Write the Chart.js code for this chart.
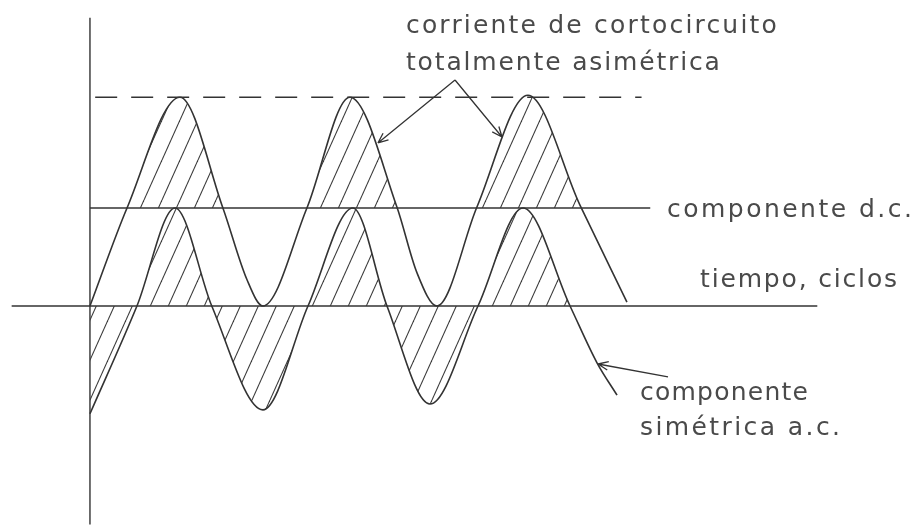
<!DOCTYPE html>
<html lang="es">
<head>
<meta charset="UTF-8">
<title>Corriente de cortocircuito totalmente asimétrica</title>
<script src="https://cdn.jsdelivr.net/npm/chart.js"></script>
<style>
  html, body { margin: 0; padding: 0; background: #fff; }
  canvas { display: block; }
</style>
</head>
<body>
<canvas id="scChart" width="913" height="527"></canvas>
<script>
// tiempo en ciclos, corriente en p.u.
const asymT = [0, 0.213, 0.517, 0.764, 0.902, 0.994, 1.247, 1.494, 1.764, 1.879, 1.994, 2.224, 2.517, 2.816, 3.086];
const asymI = [0, 1.0, 2.13, 1.0, 0.27, 0, 1.0, 2.13, 1.01, 0.34, 0, 1.01, 2.15, 1.03, 0.04];

// componente simétrica: parte rayada y cola final sin rayar
const symT = [0, 0.27, 0.489, 0.70, 0.994, 1.253, 1.511, 1.707, 1.954, 2.23, 2.489, 2.759];
const symI = [-1.1, 0, 1.0, 0, -1.06, 0, 1.0, 0, -1.0, 0, 1.0, 0];
const symTailT = [2.759, 2.914, 3.029];
const symTailI = [0, -0.58, -0.91];

const dcLevel = 1.0;
const peakLevel = 2.13;
const dcSpan = [0, 3.22];
const peakSpan = [0.03, 3.17];
const timeSpan = [-0.45, 4.18];
const currentSpan = [-2.23, 2.94];

const notes = [
  { text: 'corriente de cortocircuito', x: 1.816, y: 2.786, w: 371 },
  { text: 'totalmente asimétrica', x: 1.816, y: 2.408, w: 314 },
  { text: 'componente d.c.', x: 3.316, y: 0.908, w: 245 },
  { text: 'tiempo, ciclos', x: 3.506, y: 0.194, w: 197 },
  { text: 'componente', x: 3.161, y: -0.959, w: 168 },
  { text: 'simétrica a.c.', x: 3.161, y: -1.316, w: 200 }
];

const arrows = [
  { from: [2.098, 2.306], to: [1.655, 1.663] },
  { from: [2.098, 2.306], to: [2.368, 1.724] },
  { from: [3.322, -0.724], to: [2.920, -0.592] }
];

const ink = '#333';

// rayado diagonal
function hatch() {
  const c = document.createElement('canvas');
  c.width = 18; c.height = 40;
  const g = c.getContext('2d');
  g.strokeStyle = '#3a3a3a';
  g.lineWidth = 1.1;
  [-18, 0, 18].forEach(o => {
    g.beginPath();
    g.moveTo(o, 40);
    g.lineTo(o + 18, 0);
    g.stroke();
  });
  return g.createPattern(c, 'repeat');
}
const pattern = hatch();

const pts = (xs, ys) => xs.map((x, i) => ({ x: x, y: ys[i] }));
const flat = (span, v) => [{ x: span[0], y: v }, { x: span[1], y: v }];

const sketchPlugin = {
  id: 'sketch',
  afterDatasetsDraw(chart) {
    const ctx = chart.ctx;
    const xs = chart.scales.x, ys = chart.scales.y;
    ctx.save();
    ctx.strokeStyle = ink;
    ctx.lineWidth = 1.3;
    arrows.forEach(a => {
      const x1 = xs.getPixelForValue(a.from[0]), y1 = ys.getPixelForValue(a.from[1]);
      const x2 = xs.getPixelForValue(a.to[0]), y2 = ys.getPixelForValue(a.to[1]);
      ctx.beginPath();
      ctx.moveTo(x1, y1);
      ctx.lineTo(x2, y2);
      const ang = Math.atan2(y2 - y1, x2 - x1);
      [0.4, -0.4].forEach(d => {
        ctx.moveTo(x2, y2);
        ctx.lineTo(x2 - 11 * Math.cos(ang + d), y2 - 11 * Math.sin(ang + d));
      });
      ctx.stroke();
    });
    ctx.fillStyle = '#4a4a4a';
    ctx.font = '25px "DejaVu Sans"';
    ctx.textBaseline = 'alphabetic';
    notes.forEach(n => {
      ctx.letterSpacing = '0px';
      const w = ctx.measureText(n.text).width;
      const sp = (n.w - w) / (n.text.length - 1);
      ctx.letterSpacing = sp.toFixed(2) + 'px';
      ctx.fillText(n.text, xs.getPixelForValue(n.x), ys.getPixelForValue(n.y));
    });
    ctx.restore();
  }
};

new Chart(document.getElementById('scChart'), {
  type: 'line',
  data: {
    datasets: [
      {
        label: 'corriente totalmente asimétrica',
        data: pts(asymT, asymI),
        borderColor: ink,
        borderWidth: 1.6,
        cubicInterpolationMode: 'monotone',
        fill: { target: { value: dcLevel }, above: pattern, below: 'rgba(0,0,0,0)' }
      },
      {
        label: 'componente simétrica a.c.',
        data: pts(symT, symI),
        borderColor: ink,
        borderWidth: 1.6,
        cubicInterpolationMode: 'monotone',
        fill: { target: 'origin', above: pattern, below: pattern }
      },
      {
        label: 'componente simétrica a.c. (cola)',
        data: pts(symTailT, symTailI),
        borderColor: ink,
        borderWidth: 1.6,
        cubicInterpolationMode: 'monotone',
        fill: false
      },
      {
        label: 'componente d.c.',
        data: flat(dcSpan, dcLevel),
        borderColor: ink,
        borderWidth: 1.4,
        fill: false
      },
      {
        label: 'pico',
        data: flat(peakSpan, peakLevel),
        borderColor: ink,
        borderWidth: 1.5,
        borderDash: [22, 14],
        fill: false
      },
      {
        label: 'tiempo',
        data: flat(timeSpan, 0),
        borderColor: ink,
        borderWidth: 1.4,
        fill: false
      },
      {
        label: 'corriente',
        data: [{ x: 0, y: currentSpan[0] }, { x: 0, y: currentSpan[1] }],
        borderColor: ink,
        borderWidth: 1.4,
        fill: false
      }
    ]
  },
  options: {
    responsive: false,
    animation: false,
    layout: { padding: 0 },
    elements: { point: { radius: 0 } },
    plugins: { legend: { display: false }, tooltip: { enabled: false } },
    scales: {
      x: { type: 'linear', display: false, min: -0.517, max: 4.730 },
      y: { type: 'linear', display: false, min: -2.255, max: 3.122 }
    }
  },
  plugins: [sketchPlugin]
});
</script>
</body>
</html>
